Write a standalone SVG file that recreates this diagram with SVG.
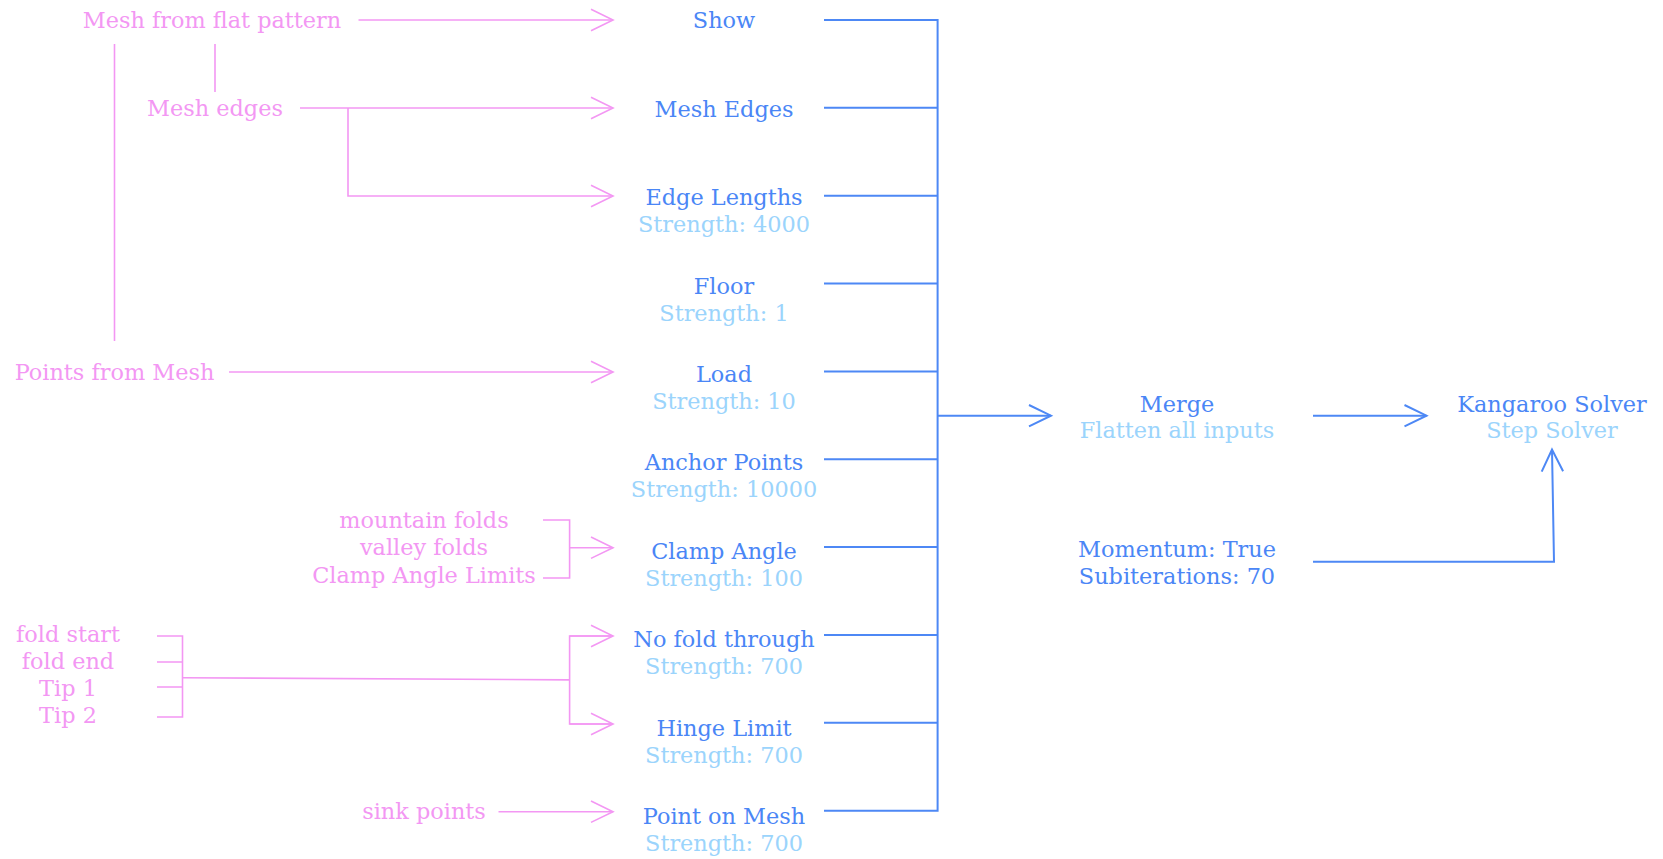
<svg xmlns="http://www.w3.org/2000/svg" width="1663" height="859" viewBox="0 0 1663 859">
  <style>
    text { font-family: "DejaVu Serif", serif; font-size: 22.4px; text-anchor: middle; }
    .in { fill: #f397f3; }
    .title { fill: #4a86f6; }
    .sub { fill: #9bd4fc; }
    .pl { fill: none; stroke: #f397f3; stroke-width: 1.6; }
    .bl { fill: none; stroke: #4d88f5; stroke-width: 2; }
  </style>
  <defs>
    <marker id="arrow-pink" markerUnits="userSpaceOnUse" markerWidth="26" markerHeight="26" refX="22" refY="11" orient="auto" overflow="visible">
      <path d="M0,0.3 L22,11 L0,21.7" fill="none" stroke="#f397f3" stroke-width="1.6"/>
    </marker>
    <marker id="arrow-blue" markerUnits="userSpaceOnUse" markerWidth="26" markerHeight="26" refX="22" refY="11" orient="auto" overflow="visible">
      <path d="M0,0.3 L22,11 L0,21.7" fill="none" stroke="#4d88f5" stroke-width="2"/>
    </marker>
  </defs>
  <rect width="1663" height="859" fill="#ffffff"/>

  <!-- input parameters -->
  <g id="mesh-from-flat-pattern"><text class="in" x="212" y="28">Mesh from flat pattern</text></g>
  <g id="mesh-edges-in"><text class="in" x="215" y="116">Mesh edges</text></g>
  <g id="points-from-mesh"><text class="in" x="114.5" y="380">Points from Mesh</text></g>
  <g id="fold-inputs">
    <text class="in" x="424" y="528">mountain folds</text>
    <text class="in" x="424" y="555">valley folds</text>
    <text class="in" x="424" y="583">Clamp Angle Limits</text>
  </g>
  <g id="tip-inputs">
    <text class="in" x="68" y="642">fold start</text>
    <text class="in" x="68" y="669">fold end</text>
    <text class="in" x="68" y="696">Tip 1</text>
    <text class="in" x="68" y="723">Tip 2</text>
  </g>
  <g id="sink-points"><text class="in" x="424" y="819">sink points</text></g>

  <!-- goal objects -->
  <g id="show"><text class="title" x="724" y="28.3">Show</text></g>
  <g id="mesh-edges"><text class="title" x="724" y="116.7">Mesh Edges</text></g>
  <g id="edge-lengths">
    <text class="title" x="724" y="205.1">Edge Lengths</text>
    <text class="sub" x="724" y="232.1">Strength: 4000</text>
  </g>
  <g id="floor">
    <text class="title" x="724" y="293.5">Floor</text>
    <text class="sub" x="724" y="320.5">Strength: 1</text>
  </g>
  <g id="load">
    <text class="title" x="724" y="381.9">Load</text>
    <text class="sub" x="724" y="408.9">Strength: 10</text>
  </g>
  <g id="anchor-points">
    <text class="title" x="724" y="470.3">Anchor Points</text>
    <text class="sub" x="724" y="497.3">Strength: 10000</text>
  </g>
  <g id="clamp-angle">
    <text class="title" x="724" y="558.7">Clamp Angle</text>
    <text class="sub" x="724" y="585.7">Strength: 100</text>
  </g>
  <g id="no-fold-through">
    <text class="title" x="724" y="647.1">No fold through</text>
    <text class="sub" x="724" y="674.1">Strength: 700</text>
  </g>
  <g id="hinge-limit">
    <text class="title" x="724" y="735.5">Hinge Limit</text>
    <text class="sub" x="724" y="762.5">Strength: 700</text>
  </g>
  <g id="point-on-mesh">
    <text class="title" x="724" y="823.9">Point on Mesh</text>
    <text class="sub" x="724" y="850.5">Strength: 700</text>
  </g>

  <!-- merge and solver -->
  <g id="merge">
    <text class="title" x="1177" y="411.7">Merge</text>
    <text class="sub" x="1177" y="438.3">Flatten all inputs</text>
  </g>
  <g id="solver-settings">
    <text class="title" x="1177" y="557.3">Momentum: True</text>
    <text class="title" x="1177" y="584">Subiterations: 70</text>
  </g>
  <g id="kangaroo-solver">
    <text class="title" x="1552" y="411.7">Kangaroo Solver</text>
    <text class="sub" x="1552" y="438.3">Step Solver</text>
  </g>

  <g id="connectors">
    <!-- inputs into goals -->
    <path class="pl" d="M358.5,20 H613" marker-end="url(#arrow-pink)"/>
    <path class="pl" d="M114.5,44 V341"/>
    <path class="pl" d="M215,44 V92"/>
    <path class="pl" d="M300,108 H613" marker-end="url(#arrow-pink)"/>
    <path class="pl" d="M348,108 V196 H613" marker-end="url(#arrow-pink)"/>
    <path class="pl" d="M229,372 H613" marker-end="url(#arrow-pink)"/>
    <path class="pl" d="M543,520 H569.6 V578 H543"/>
    <path class="pl" d="M569.6,547.7 H613" marker-end="url(#arrow-pink)"/>
    <path class="pl" d="M157,636 H182.5 V717 H157 M157,662 H182.5 M157,687 H182.5"/>
    <path class="pl" d="M182.5,677.7 L569.6,679.9"/>
    <path class="pl" d="M613,636 H569.6 V724 H613"/>
    <path class="pl" d="M569.6,636 H613" marker-end="url(#arrow-pink)"/>
    <path class="pl" d="M569.6,724 H613" marker-end="url(#arrow-pink)"/>
    <path class="pl" d="M498.5,811.7 H613" marker-end="url(#arrow-pink)"/>

    <!-- goals into merge bus -->
    <path class="bl" d="M824,20 H937.6 V810.7 H824"/>
    <path class="bl" d="M824,107.8 H937.6 M824,195.7 H937.6 M824,283.6 H937.6 M824,371.4 H937.6 M824,459.3 H937.6 M824,547.1 H937.6 M824,635 H937.6 M824,722.8 H937.6"/>
    <path class="bl" d="M937.6,415.7 H1051" marker-end="url(#arrow-blue)"/>
    <path class="bl" d="M1313,415.7 H1426.5" marker-end="url(#arrow-blue)"/>
    <path class="bl" d="M1313,561.7 H1554 L1552,449.5" marker-end="url(#arrow-blue)"/>
  </g>
</svg>
